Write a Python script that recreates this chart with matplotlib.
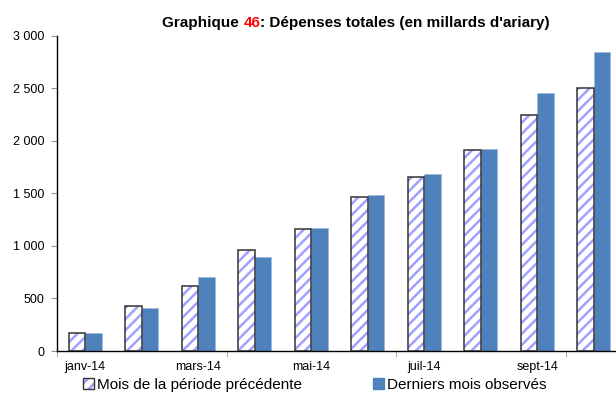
import matplotlib
matplotlib.use("Agg")
import matplotlib.pyplot as plt
import numpy as np
from matplotlib.patches import Patch
from matplotlib.legend_handler import HandlerTuple
from matplotlib.ticker import FuncFormatter, FixedLocator

plt.rcParams['font.family'] = ['Liberation Sans', 'DejaVu Sans']
plt.rcParams['hatch.linewidth'] = 1.8

months = ["janv-14", "févr-14", "mars-14", "avr-14", "mai-14",
          "juin-14", "juil-14", "août-14", "sept-14", "oct-14"]
previous_period = [174, 428, 621, 958, 1161, 1465, 1652, 1910, 2245, 2505]
latest_observed = [172, 409, 701, 891, 1167, 1484, 1687, 1919, 2455, 2848]

label_prev = "Mois de la période précédente"
label_last = "Derniers mois observés"

hatch_color = "#a0a0ff"
solid_color = "#4f81bd"
outline_color = "#333333"

fig = plt.figure(figsize=(6.16, 3.98), dpi=100)
ax = fig.add_axes([57 / 616, 1 - 351 / 398, 565 / 616, (351 - 35.7) / 398])

x = np.arange(len(months))
w = 0.29

# hatched bars: hatch drawn in light blue, outline in dark grey on top
ax.bar(x - w / 2, previous_period, width=w, facecolor="white",
       edgecolor=hatch_color, hatch="///", linewidth=0, zorder=2)
ax.bar(x - w / 2, previous_period, width=w, facecolor="none",
       edgecolor=outline_color, linewidth=1.1, zorder=3)
ax.bar(x + w / 2, latest_observed, width=w, color=solid_color,
       edgecolor="#9db8dd", linewidth=0.6, zorder=2)

ax.set_xlim(-0.5, len(months) - 0.5)
ax.set_ylim(0, 3000)
ax.set_yticks(np.arange(0, 3001, 500))
ax.yaxis.set_major_formatter(FuncFormatter(lambda v, p: f"{int(v):,}".replace(",", " ")))

ax.set_xticks(x[::2])
ax.set_xticklabels(months[::2])
ax.xaxis.set_minor_locator(FixedLocator([-0.5, 2.5, 5.5, 8.5]))
ax.tick_params(axis="x", which="major", length=0, labelsize=9, pad=7)
ax.tick_params(axis="x", which="minor", length=4, color="#999999", direction="out")
ax.tick_params(axis="y", length=4, color="#999999", direction="out", labelsize=9, pad=5)

for s in ("top", "right"):
    ax.spines[s].set_visible(False)
ax.spines["left"].set_color("black")
ax.spines["bottom"].set_color("black")
ax.spines["left"].set_linewidth(1.0)
ax.spines["bottom"].set_linewidth(1.0)

# title with the chart number in red
fig.canvas.draw()
renderer = fig.canvas.get_renderer()
parts = [("Graphique ", "black"), ("46", "red"),
         (": Dépenses totales (en millards d'ariary)", "black")]
texts = []
for s, c in parts:
    t = fig.text(0, 1 - 27.3 / 398, s, color=c, fontsize=11, fontweight="bold",
                 va="baseline", ha="left")
    texts.append(t)
widths = [t.get_window_extent(renderer).width for t in texts]
start = 356 - sum(widths) / 2
for t, wd in zip(texts, widths):
    t.set_x(start / 616)
    start += wd

hatched_handle = (Patch(facecolor="white", edgecolor=hatch_color, hatch="///", linewidth=0),
                  Patch(facecolor="none", edgecolor=outline_color, linewidth=1.0))
solid_handle = Patch(facecolor=solid_color, edgecolor=solid_color)
leg = fig.legend([hatched_handle, solid_handle], [label_prev, label_last], loc="center",
                 bbox_to_anchor=(314.5 / 616, 1 - 385 / 398), ncol=2, frameon=False,
                 fontsize=11, handlelength=0.75, handleheight=0.75,
                 handletextpad=0.15, columnspacing=4.65, borderaxespad=0,
                 handler_map={tuple: HandlerTuple(ndivide=1, pad=0)})

fig.savefig("out.png", dpi=100)
